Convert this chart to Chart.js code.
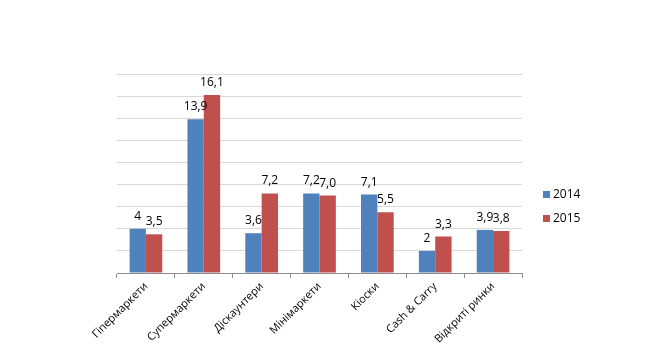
<!DOCTYPE html>
<html>
<head>
<meta charset="utf-8">
<script src="https://cdn.jsdelivr.net/npm/chart.js@4/dist/chart.umd.min.js"></script>
<style>
  body { margin: 0; background: #fff; }
  canvas { display: block; }
</style>
</head>
<body>
<canvas id="chart" width="662" height="353"></canvas>
<script>
// shop formats
const categories = ['Гіпермаркети', 'Супермаркети', 'Діскаунтери', 'Мінімаркети', 'Кіоски', 'Cash & Carry', 'Відкриті ринки'];
const values2014 = [4, 13.9, 3.6, 7.2, 7.1, 2, 3.9];
const values2015 = [3.5, 16.1, 7.2, 7.0, 5.5, 3.3, 3.8];
// labels exactly as printed on the picture
const labels2014 = ['4', '13,9', '3,6', '7,2', '7,1', '2', '3,9'];
const labels2015 = ['3,5', '16,1', '7,2', '7,0', '5,5', '3,3', '3,8'];

const BLUE = '#4f81bd';
const RED = '#c0504d';
const FONT = '"Open Sans", sans-serif';

// value labels over each bar
const barLabels = {
    id: 'barLabels',
    afterDatasetsDraw(chart) {
        const ctx = chart.ctx;
        ctx.save();
        ctx.font = '12px ' + FONT;
        ctx.fillStyle = '#000';
        ctx.textAlign = 'center';
        ctx.textBaseline = 'alphabetic';
        chart.data.datasets.forEach((ds, i) => {
            chart.getDatasetMeta(i).data.forEach((bar, j) => {
                ctx.fillText(ds.valueLabels[j], bar.x, bar.y - 9);
            });
        });
        ctx.restore();
    }
};

// excel-like legend to the right of the plot
const sideLegend = {
    id: 'sideLegend',
    afterDraw(chart) {
        const ctx = chart.ctx;
        const x = chart.chartArea.right + 21;
        let y = 194.5;
        ctx.save();
        ctx.font = '12px ' + FONT;
        ctx.textBaseline = 'middle';
        chart.data.datasets.forEach(ds => {
            ctx.fillStyle = ds.backgroundColor;
            ctx.fillRect(x, y - 3.5, 7, 7);
            ctx.fillStyle = '#000';
            ctx.fillText(ds.label, x + 10, y + 0.5);
            y += 24;
        });
        ctx.restore();
    }
};

new Chart(document.getElementById('chart'), {
    type: 'bar',
    data: {
        labels: categories,
        datasets: [
            { label: '2014', data: values2014, valueLabels: labels2014, backgroundColor: BLUE },
            { label: '2015', data: values2015, valueLabels: labels2015, backgroundColor: RED }
        ]
    },
    options: {
        responsive: false,
        animation: false,
        layout: { padding: { left: 117, top: 74, right: 140, bottom: 0 } },
        datasets: { bar: { categoryPercentage: 0.565, barPercentage: 1 } },
        plugins: {
            legend: { display: false },
            tooltip: { enabled: false }
        },
        scales: {
            x: {
                afterFit: (scale) => { scale.height = 80; },
                grid: { offset: true, drawOnChartArea: false, tickLength: 5, color: '#8c8c8c' },
                border: { color: '#8c8c8c' },
                ticks: {
                    autoSkip: false,
                    minRotation: 45,
                    maxRotation: 45,
                    padding: 2,
                    color: '#000',
                    font: { family: FONT, size: 11 }
                }
            },
            y: {
                min: 0,
                max: 18,
                afterFit: (scale) => { scale.width = 0; },
                grid: { color: '#d9d9d9', drawTicks: false },
                border: { display: false },
                ticks: { stepSize: 2, display: false }
            }
        }
    },
    plugins: [barLabels, sideLegend]
});
</script>
</body>
</html>
